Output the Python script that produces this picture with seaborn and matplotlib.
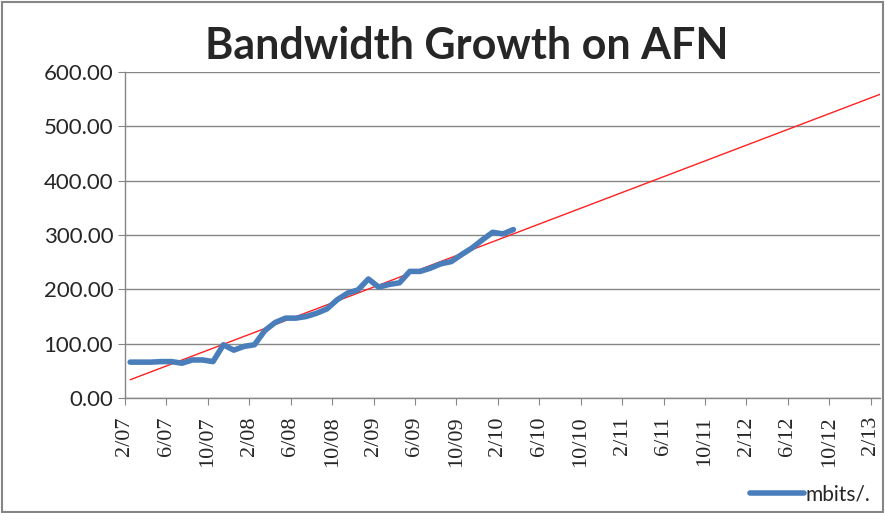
import numpy as np
import pandas as pd
import matplotlib
matplotlib.use('Agg')
import matplotlib.pyplot as plt
import seaborn as sns
from matplotlib.ticker import FormatStrFormatter
from matplotlib.patches import Rectangle

sns.set_style('white')
plt.rcParams['font.family'] = ['Lato', 'DejaVu Sans']

# monthly bandwidth, starting 2/07 (month 0)
months = list(range(38))
mbits = [66, 66, 66, 67, 67, 64, 70, 70, 67, 98, 88, 95, 98, 124, 139, 147, 147, 150,
         156, 164, 181, 193, 199, 219, 204, 209, 212, 233, 233, 239, 247, 251, 264,
         276, 291, 305, 302, 310]
tick_labels = ['2/07', '6/07', '10/07', '2/08', '6/08', '10/08', '2/09', '6/09', '10/09',
               '2/10', '6/10', '10/10', '2/11', '6/11', '10/11', '2/12', '6/12', '10/12', '2/13']
tick_months = list(range(0, 73, 4))
forecast_end = 72.9

df = pd.DataFrame({'month': np.array(months) + 0.5, 'mbits': mbits})

fig = plt.figure(figsize=(8.85, 5.13), dpi=100)
ax = fig.add_axes([125 / 885, 1 - 398 / 513, 755 / 885, 326 / 513])

# linear trendline (least squares), extended forward
slope, icpt = np.polyfit(df['month'], df['mbits'], 1)
tx = np.array([0.5, forecast_end])
ax.plot(tx, slope * tx + icpt, color='#ff2020', lw=1.0, zorder=3)

sns.lineplot(data=df, x='month', y='mbits', ax=ax, color='#4a7ebb', lw=4,
             label='mbits/.', zorder=4, solid_capstyle='round', legend=False)

ax.set_xlim(0, forecast_end)
ax.set_ylim(0, 600)
ax.set_yticks(range(0, 601, 100))
ax.yaxis.set_major_formatter(FormatStrFormatter('%.2f'))
ax.set_xticks(tick_months)
ax.set_xticklabels(tick_labels, rotation=90, fontfamily=['Liberation Serif'], fontsize=16)
ax.grid(axis='y', color='#868686', lw=1)
ax.set_axisbelow(True)
for s in ['top', 'right']:
    ax.spines[s].set_visible(False)
for s in ['left', 'bottom']:
    ax.spines[s].set_color('#868686')
    ax.spines[s].set_linewidth(1)
ax.tick_params(axis='both', which='both', direction='out', length=5, color='#868686',
               left=True, bottom=True)
ax.tick_params(axis='y', labelsize=16)
ax.tick_params(axis='x', pad=8)
ax.set_xlabel('')
ax.set_ylabel('')

fig.text(0.527, 0.91, 'Bandwidth Growth on AFN', ha='center', va='center',
         fontsize=31, fontweight='bold')

handle = plt.Line2D([], [], color='#4a7ebb', lw=4)
fig.legend([handle], ['mbits/.'], loc='lower right', bbox_to_anchor=(1.005, -0.02),
           frameon=False, fontsize=15, handlelength=2.6, handletextpad=0.1)

fig.patches.append(Rectangle((0.002, 0.002), 0.996, 0.994, transform=fig.transFigure,
                             fill=False, edgecolor='#868686', lw=1.5))

fig.savefig('out.png', dpi=100)
